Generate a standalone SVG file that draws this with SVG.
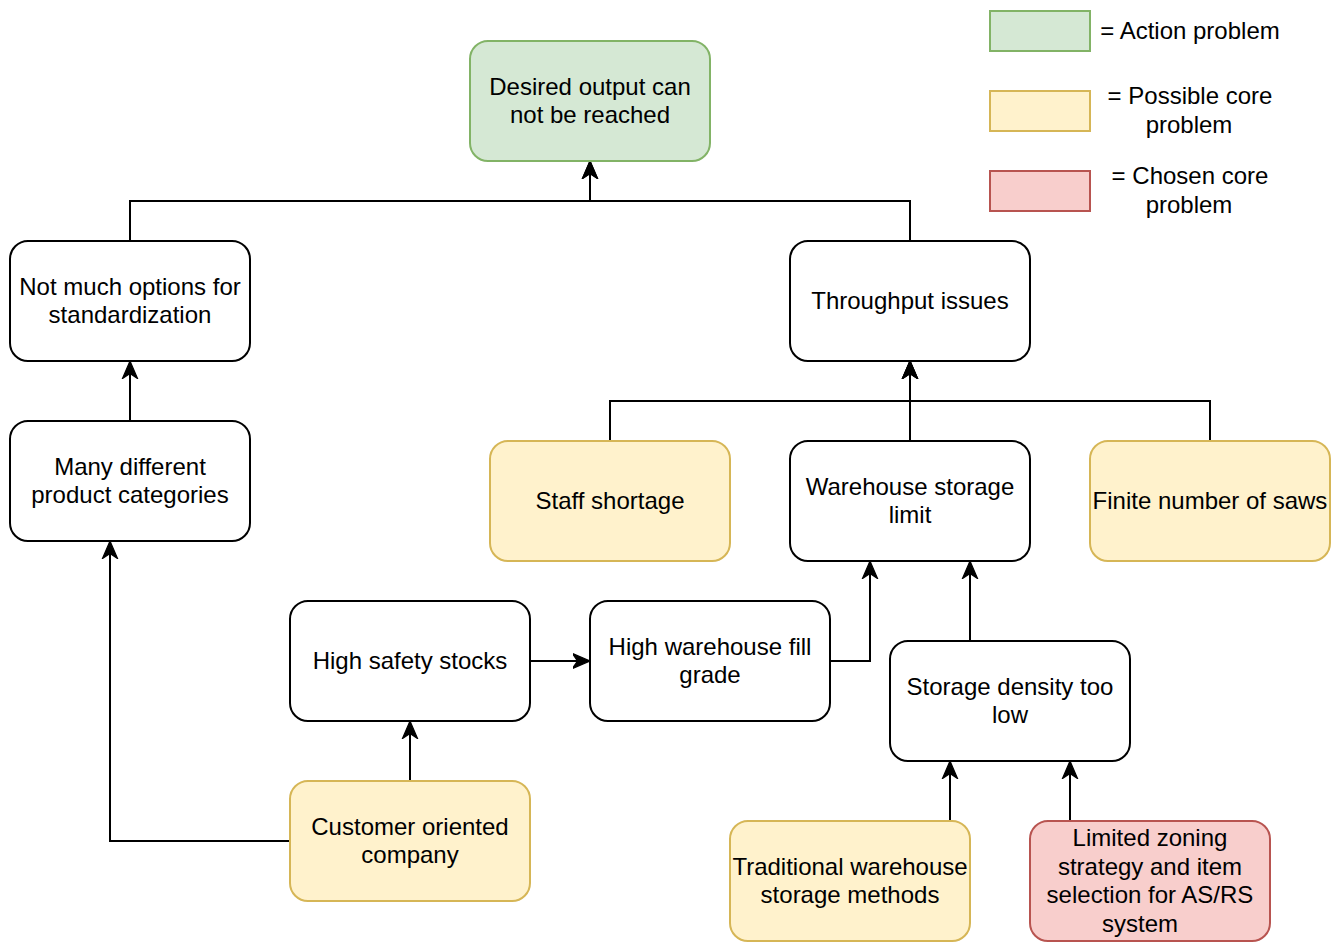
<svg xmlns="http://www.w3.org/2000/svg" width="1342" height="942" viewBox="0 0 1342 942">
  <style>
    .box { stroke-width: 2; }
    .plain { fill: #ffffff; stroke: #000000; }
    .action { fill: #d5e8d4; stroke: #82b366; }
    .possible { fill: #fff2cc; stroke: #d6b656; }
    .chosen { fill: #f8cecc; stroke: #b85450; }
    text { font-family: "Liberation Sans", Arial, Helvetica, sans-serif; font-size: 24px; fill: #000000; text-anchor: middle; }
    .edge { fill: none; stroke: #000000; stroke-width: 2; marker-end: url(#arrow); }
  </style>
  <defs>
    <marker id="arrow" markerUnits="userSpaceOnUse" markerWidth="20" markerHeight="20" refX="0" refY="0" viewBox="-14 -8 16 16" orient="auto">
      <path d="M-14,-6 L0,0 L-14,6 L-10,0 Z" fill="#000000" stroke="#000000" stroke-width="1"/>
    </marker>
  </defs>

  <rect width="1342" height="942" fill="#ffffff"/>

  <!-- connectors -->
  <g id="connectors">
    <path class="edge" d="M130,241 L130,201 L590,201 L590,161"/>
    <path class="edge" d="M910,241 L910,201 L590,201 L590,161"/>
    <path class="edge" d="M130,421 L130,361"/>
    <path class="edge" d="M610,441 L610,401 L910,401 L910,361"/>
    <path class="edge" d="M910,441 L910,361"/>
    <path class="edge" d="M1210,441 L1210,401 L910,401 L910,361"/>
    <path class="edge" d="M290,841 L110,841 L110,541"/>
    <path class="edge" d="M410,781 L410,721"/>
    <path class="edge" d="M530,661 L590,661"/>
    <path class="edge" d="M830,661 L870,661 L870,561"/>
    <path class="edge" d="M1010,641 L970,641 L970,561"/>
    <path class="edge" d="M950,821 L950,761"/>
    <path class="edge" d="M1070,821 L1070,761"/>
  </g>

  <!-- nodes -->
  <g id="desired-output">
    <rect class="box action" x="470" y="41" width="240" height="120" rx="18"/>
    <text x="590" y="95">Desired output can</text>
    <text x="590" y="123">not be reached</text>
  </g>
  <g id="standardization">
    <rect class="box plain" x="10" y="241" width="240" height="120" rx="18"/>
    <text x="130" y="295">Not much options for</text>
    <text x="130" y="323">standardization</text>
  </g>
  <g id="throughput">
    <rect class="box plain" x="790" y="241" width="240" height="120" rx="18"/>
    <text x="910" y="309">Throughput issues</text>
  </g>
  <g id="product-categories">
    <rect class="box plain" x="10" y="421" width="240" height="120" rx="18"/>
    <text x="130" y="475">Many different</text>
    <text x="130" y="503">product categories</text>
  </g>
  <g id="staff-shortage">
    <rect class="box possible" x="490" y="441" width="240" height="120" rx="18"/>
    <text x="610" y="509">Staff shortage</text>
  </g>
  <g id="storage-limit">
    <rect class="box plain" x="790" y="441" width="240" height="120" rx="18"/>
    <text x="910" y="495">Warehouse storage</text>
    <text x="910" y="523">limit</text>
  </g>
  <g id="saws">
    <rect class="box possible" x="1090" y="441" width="240" height="120" rx="18"/>
    <text x="1210" y="509">Finite number of saws</text>
  </g>
  <g id="safety-stocks">
    <rect class="box plain" x="290" y="601" width="240" height="120" rx="18"/>
    <text x="410" y="669">High safety stocks</text>
  </g>
  <g id="fill-grade">
    <rect class="box plain" x="590" y="601" width="240" height="120" rx="18"/>
    <text x="710" y="655">High warehouse fill</text>
    <text x="710" y="683">grade</text>
  </g>
  <g id="storage-density">
    <rect class="box plain" x="890" y="641" width="240" height="120" rx="18"/>
    <text x="1010" y="695">Storage density too</text>
    <text x="1010" y="723">low</text>
  </g>
  <g id="customer-oriented">
    <rect class="box possible" x="290" y="781" width="240" height="120" rx="18"/>
    <text x="410" y="835">Customer oriented</text>
    <text x="410" y="863">company</text>
  </g>
  <g id="traditional-storage">
    <rect class="box possible" x="730" y="821" width="240" height="120" rx="18"/>
    <text x="850" y="875">Traditional warehouse</text>
    <text x="850" y="903">storage methods</text>
  </g>
  <g id="zoning-strategy">
    <rect class="box chosen" x="1030" y="821" width="240" height="120" rx="18"/>
    <text x="1150" y="846">Limited zoning</text>
    <text x="1150" y="875">strategy and item</text>
    <text x="1150" y="903">selection for AS/RS</text>
    <text x="1140" y="932">system</text>
  </g>

  <!-- legend -->
  <g id="legend-action">
    <rect class="box action" x="990" y="11" width="100" height="40"/>
    <text x="1190" y="39">= Action problem</text>
  </g>
  <g id="legend-possible">
    <rect class="box possible" x="990" y="91" width="100" height="40"/>
    <text x="1190" y="104">= Possible core</text>
    <text x="1189" y="133">problem</text>
  </g>
  <g id="legend-chosen">
    <rect class="box chosen" x="990" y="171" width="100" height="40"/>
    <text x="1190" y="184">= Chosen core</text>
    <text x="1189" y="213">problem</text>
  </g>
</svg>
